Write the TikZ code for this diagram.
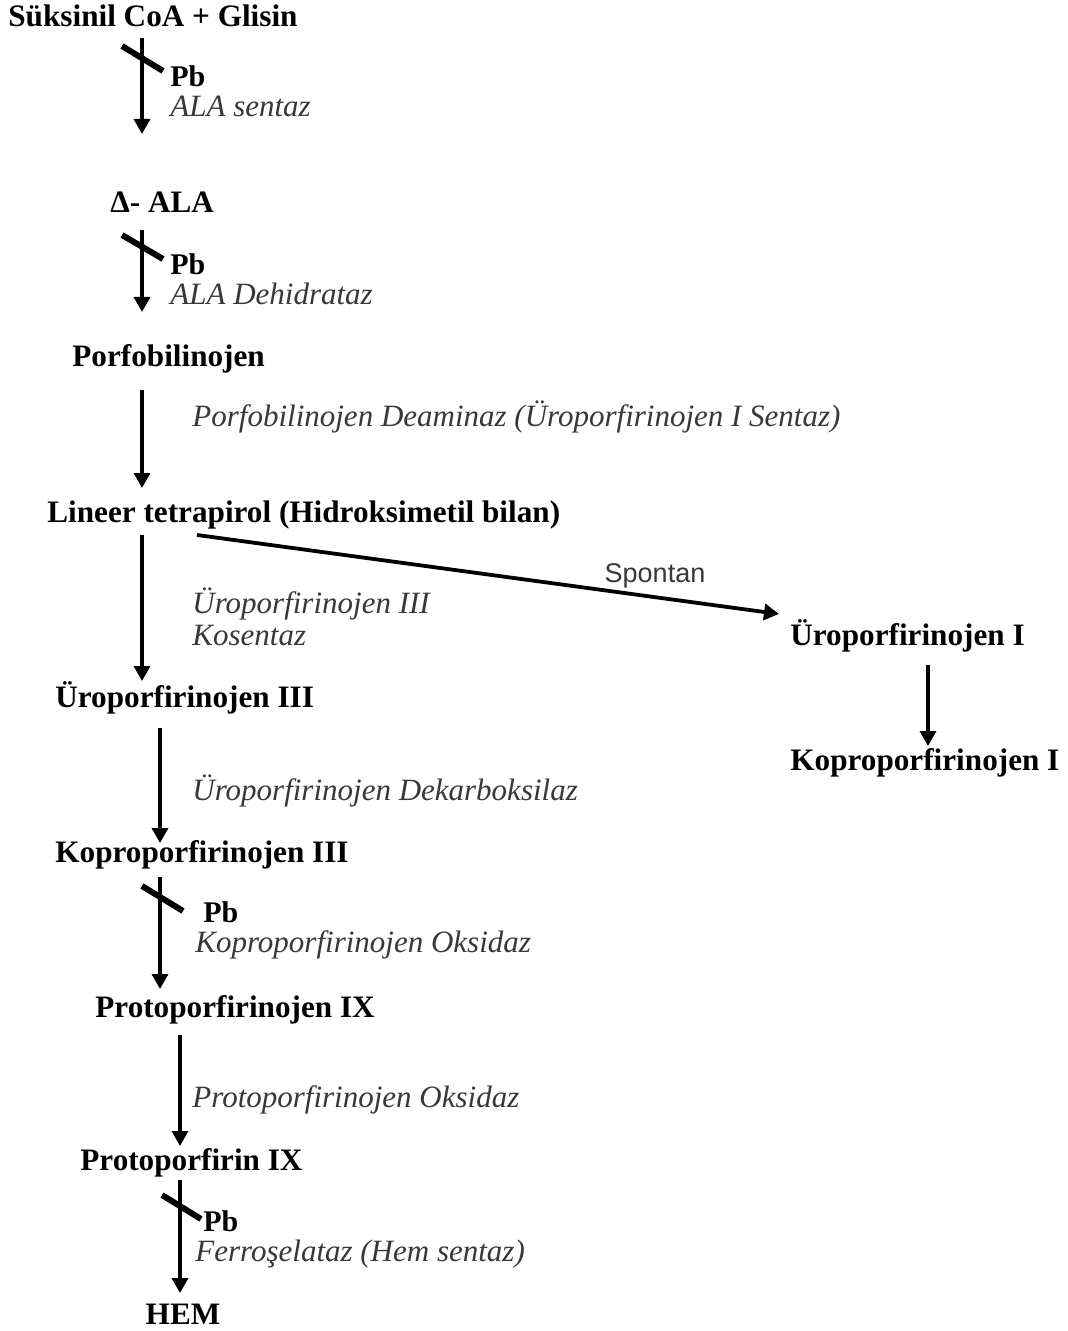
\documentclass[tikz,border=0pt]{standalone}
\usepackage{fontspec}
\setmainfont{Liberation Serif}
\newfontfamily\sansf{Liberation Sans}
\usetikzlibrary{arrows.meta}
\definecolor{labgray}{gray}{0.22}
\begin{document}
\begin{tikzpicture}[x=0.5pt,y=-0.5pt,
  cmpd/.style={inner sep=0pt,anchor=base west,font=\fontsize{15.6}{18}\selectfont\bfseries,text=black},
  enz/.style={inner sep=0pt,anchor=base west,font=\fontsize{15.5}{18}\selectfont\itshape,text=labgray},
  pblab/.style={inner sep=0pt,anchor=base west,font=\fontsize{15}{18}\selectfont\bfseries,text=black},
  arr/.style={line width=1.7pt,-{Triangle[width=8pt,length=7.5pt]}},
  inhib/.style={line width=3pt}]
\useasboundingbox (0,0) rectangle (1067,1331);
\fill[white] (0,0) rectangle (1067,1331);

% compounds
\node[cmpd] (suk) at (8,27) {Süksinil CoA + Glisin};
\node[cmpd] (ala) at (110,213) {Δ- ALA};
\node[cmpd] (pbg) at (72,367) {Porfobilinojen};
\node[cmpd] (lin) at (47,522) {Lineer tetrapirol (Hidroksimetil bilan)};
\node[cmpd] (uro1) at (790,645) {Üroporfirinojen I};
\node[cmpd] (kop1) at (790,770) {Koproporfirinojen I};
\node[cmpd] (uro3) at (55,707) {Üroporfirinojen III};
\node[cmpd] (kop3) at (55,862) {Koproporfirinojen III};
\node[cmpd] (ppg) at (95,1017) {Protoporfirinojen IX};
\node[cmpd] (pp) at (80,1170) {Protoporfirin IX};
\node[cmpd,anchor=base] (hem) at (183,1324) {HEM};

% enzyme labels
\node[pblab] (pb1) at (170,87) {Pb};
\node[enz] (e1) at (170,117) {ALA sentaz};
\node[pblab] (pb2) at (170,275) {Pb};
\node[enz] (e2) at (170,305) {ALA Dehidrataz};
\node[enz] (e3) at (192,427) {Porfobilinojen Deaminaz (Üroporfirinojen I Sentaz)};
\node[enz] (e4a) at (192,613) {Üroporfirinojen III};
\node[enz] (e4b) at (192,645) {Kosentaz};
\node[inner sep=0pt,anchor=base,font=\fontsize{13.5}{16}\sansf,text=labgray] (spon) at (655,582) {Spontan};
\node[enz] (e5) at (192,800) {Üroporfirinojen Dekarboksilaz};
\node[pblab] (pb3) at (203,922) {Pb};
\node[enz] (e6) at (195,952) {Koproporfirinojen Oksidaz};
\node[enz] (e7) at (192,1107) {Protoporfirinojen Oksidaz};
\node[pblab] (pb4) at (203,1231) {Pb};
\node[enz] (e8) at (195,1261) {Ferroşelataz (Hem sentaz)};

% arrow end points
\coordinate (a1s) at (142,38);   \coordinate (a1e) at (142,134);
\coordinate (a2s) at (142,230);  \coordinate (a2e) at (142,312);
\coordinate (a3s) at (142,390);  \coordinate (a3e) at (142,488);
\coordinate (a4s) at (142,535);  \coordinate (a4e) at (142,681);
\coordinate (dgs) at (197,535);  \coordinate (dge) at (779,614);
\coordinate (a5s) at (928,665);  \coordinate (a5e) at (928,746);
\coordinate (a6s) at (160,728);  \coordinate (a6e) at (160,843);
\coordinate (a7s) at (160,877);  \coordinate (a7e) at (160,989);
\coordinate (a8s) at (180,1035); \coordinate (a8e) at (180,1146);
\coordinate (a9s) at (180,1180); \coordinate (a9e) at (180,1293);

\draw[arr] (a1s) -- (a1e);
\draw[arr] (a2s) -- (a2e);
\draw[arr] (a3s) -- (a3e);
\draw[arr] (a4s) -- (a4e);
\draw[arr,line width=1.9pt] (dgs) -- (dge);
\draw[arr] (a5s) -- (a5e);
\draw[arr] (a6s) -- (a6e);
\draw[arr] (a7s) -- (a7e);
\draw[arr] (a8s) -- (a8e);
\draw[arr] (a9s) -- (a9e);

% inhibition bars
\draw[inhib] (122,46) -- (163,71);
\draw[inhib] (122,235) -- (163,259);
\draw[inhib] (142,886) -- (183,911);
\draw[inhib] (162,1195) -- (201,1219);
\end{tikzpicture}
\end{document}
